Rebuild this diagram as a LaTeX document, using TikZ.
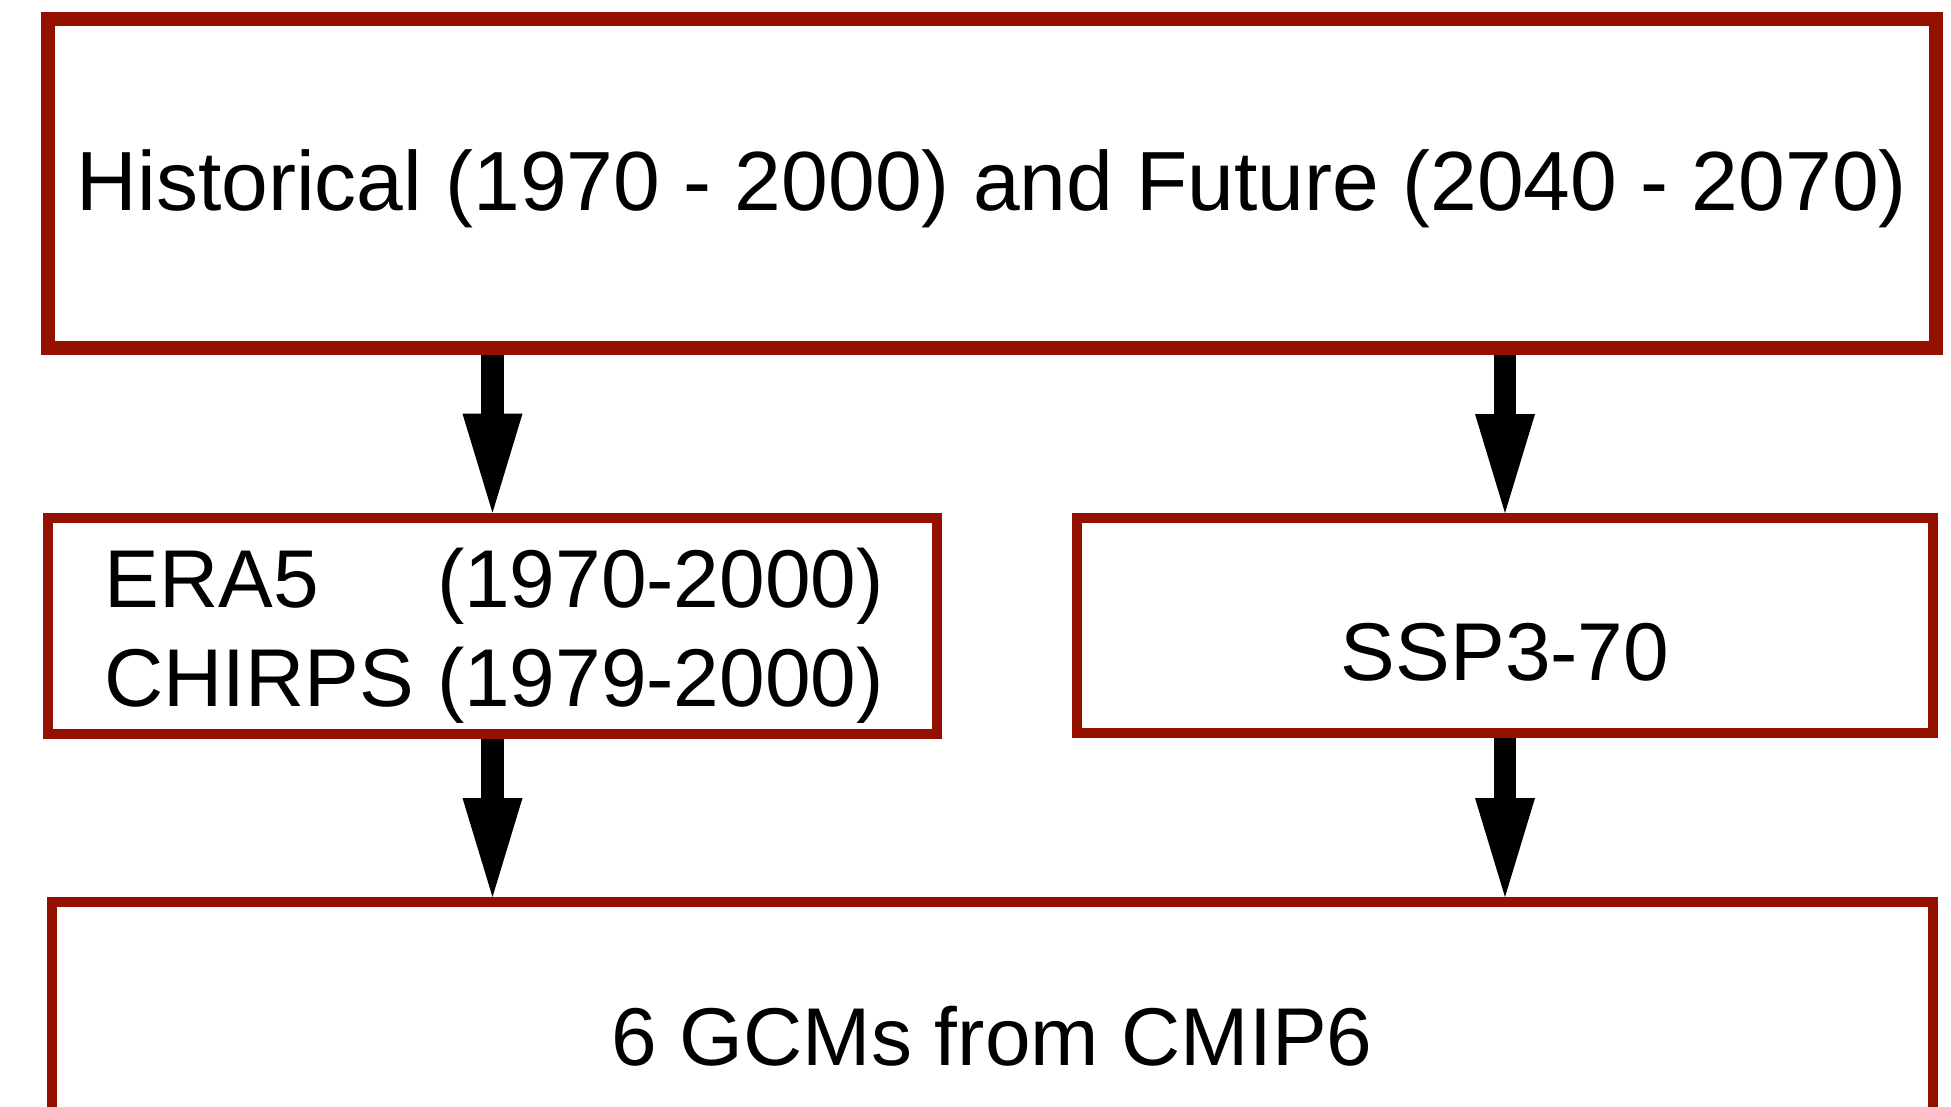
\documentclass[tikz,border=0pt]{standalone}
\usepackage{fontspec}
\setmainfont{Liberation Sans}
\usetikzlibrary{arrows.meta}
\definecolor{boxred}{RGB}{148,17,0}
\begin{document}
\begin{tikzpicture}[x=1pt,y=-1pt,
  box/.style={draw=boxred, fill=white, rectangle, inner sep=0pt, outer sep=0.5\pgflinewidth},
  lbl/.style={inner sep=0pt, outer sep=0pt, font=\fontsize{82}{99}\selectfont},
  arr/.style={line width=22.5pt, -{Triangle[width=60pt,length=99pt,line width=0pt]}}]
\clip (0,0) rectangle (1951,1107);
\fill[white] (0,0) rectangle (1951,1107);
% boxes
\node[box, line width=13.5pt, minimum width=1888pt, minimum height=329pt] (top) at (992,183.5) {};
\node[box, line width=10pt, minimum width=889pt, minimum height=216pt] (era) at (492.5,625.7) {};
\node[box, line width=10pt, minimum width=856pt, minimum height=215pt] (ssp) at (1505,625.5) {};
\node[box, line width=10pt, minimum width=1881pt, minimum height=300pt] (gcm) at (992.5,1052) {};
% texts
\node[lbl, anchor=base, font=\fontsize{84}{99}\selectfont] (toptxt) at (992,211) {Historical (1970 - 2000) and Future (2040 - 2070)};
\node[lbl, anchor=base west] (eratxt) at (104.5,607.7) {\rlap{ERA5}\hphantom{CHIRPS }(1970-2000)};
\node[lbl, anchor=base west] (chirpstxt) at (104.5,706.7) {CHIRPS (1979-2000)};
\node[lbl, anchor=base] (ssptxt) at (1505,680.7) {SSP3-70};
\node[lbl, anchor=base] (gcmtxt) at (992,1065) {6 GCMs from CMIP6};
% connectors
\draw[arr] (top.south -| era.north) -- (era.north);
\draw[arr] (top.south -| ssp.north) -- (ssp.north);
\draw[arr] (era.south) -- (era.south |- gcm.north);
\draw[arr] (ssp.south) -- (ssp.south |- gcm.north);
\end{tikzpicture}
\end{document}
